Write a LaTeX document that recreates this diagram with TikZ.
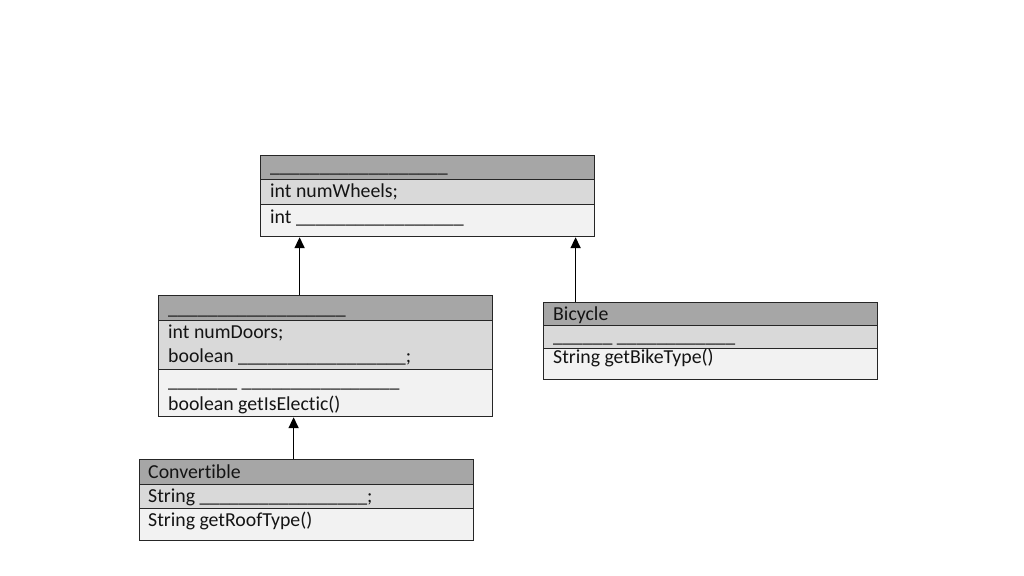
\documentclass[tikz,border=0pt]{standalone}
\usepackage{fontspec}
\setmainfont{Carlito}[Ligatures=NoCommon]
\usetikzlibrary{arrows.meta}
\definecolor{hdr}{HTML}{A6A6A6}
\definecolor{att}{HTML}{D9D9D9}
\definecolor{mth}{HTML}{F2F2F2}
\definecolor{edge}{HTML}{262626}
\begin{document}
\begin{tikzpicture}[x=1pt,y=-1pt,
  comp/.style={draw=edge, line width=1.2pt, rectangle, inner sep=0pt, anchor=north west, minimum width=334pt},
  txt/.style={anchor=base west, inner sep=0pt, font=\fontsize{19.8}{24}\selectfont, text=black!92},
  arr/.style={draw=black, line width=1.7pt, -{Triangle[length=11pt,width=10pt]}}]
\useasboundingbox[fill=white] (0,0) rectangle (1024,575);
% Vehicle (top)
\node[comp, fill=hdr, minimum height=24pt] (vH) at (260,155) {};
\node[comp, fill=att, minimum height=25pt] (vA) at (260,179) {};
\node[comp, fill=mth, minimum height=32pt] (vM) at (260,204) {};
\node[txt] (vHt) at (270,172) {\_\_\_\_\_\_\_\_\_\_\_\_\_\_\_\_\_\_};
\node[txt] (vAt) at (270,197) {int numWheels;};
\node[txt] (vMt) at (270,223) {int \_\_\_\_\_\_\_\_\_\_\_\_\_\_\_\_\_};
% Car (middle left)
\node[comp, fill=hdr, minimum height=25pt] (cH) at (158,295) {};
\node[comp, fill=att, minimum height=49pt] (cA) at (158,320) {};
\node[comp, fill=mth, minimum height=47pt] (cM) at (158,369) {};
\node[txt] (cHt) at (168,314) {\_\_\_\_\_\_\_\_\_\_\_\_\_\_\_\_\_\_};
\node[txt] (cAt1) at (168,338) {int numDoors;};
\node[txt] (cAt2) at (168,362) {boolean \_\_\_\_\_\_\_\_\_\_\_\_\_\_\_\_\_;};
\node[txt] (cMt1) at (168,387) {\_\_\_\_\_\_\_ \_\_\_\_\_\_\_\_\_\_\_\_\_\_\_\_};
\node[txt] (cMt2) at (168,410) {boolean getIsElectic()};
% Bicycle (middle right)
\node[comp, fill=hdr, minimum height=23pt] (bH) at (543,302) {};
\node[comp, fill=att, minimum height=23pt] (bA) at (543,325) {};
\node[comp, fill=mth, minimum height=31pt] (bM) at (543,348) {};
\node[txt] (bHt) at (553,320) {Bicycle};
\node[txt] (bAt) at (553,342) {\_\_\_\_\_\_ \_\_\_\_\_\_\_\_\_\_\_\_};
\node[txt] (bMt) at (553,363) {String getBikeType()};
% Convertible (bottom)
\node[comp, fill=hdr, minimum height=25pt] (xH) at (139,459) {};
\node[comp, fill=att, minimum height=24pt] (xA) at (139,484) {};
\node[comp, fill=mth, minimum height=32pt] (xM) at (139,508) {};
\node[txt] (xHt) at (148,478) {Convertible};
\node[txt] (xAt) at (148,502) {String \_\_\_\_\_\_\_\_\_\_\_\_\_\_\_\_\_;};
\node[txt] (xMt) at (148,526) {String getRoofType()};
% Arrows
\draw[arr] ([xshift=-26pt]cH.north) -- ([xshift=-26pt]cH.north |- vM.south);
\draw[arr] ([xshift=-135pt]bH.north) -- ([xshift=-135pt]bH.north |- vM.south);
\draw[arr] ([xshift=-13pt]xH.north) -- ([xshift=-13pt]xH.north |- cM.south);
\end{tikzpicture}
\end{document}
